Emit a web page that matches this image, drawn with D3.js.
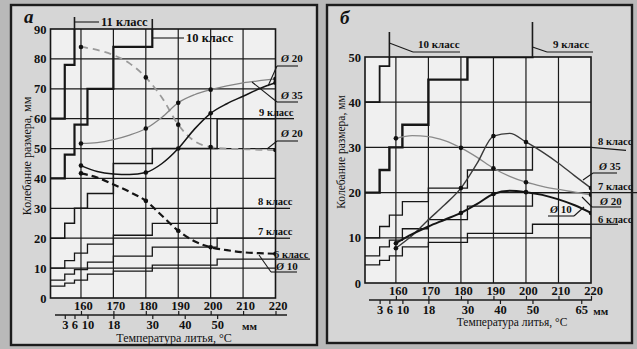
<!DOCTYPE html>
<html>
<head>
<meta charset="utf-8">
<script src="https://cdn.jsdelivr.net/npm/d3@7"></script>
<style>
  body { margin: 0; background: #b9b9b9; }
  svg text { font-family: "Liberation Serif", "DejaVu Serif", serif; fill: #111; }
</style>
</head>
<body>
<div id="chart"></div>
<script>
// ---- data ----
var tempTicks = [160, 170, 180, 190, 200, 210, 220];
var mmTicksA = [3, 6, 10, 18, 30, 40, 50];
var mmTicksB = [3, 6, 10, 18, 30, 40, 50, 65];
// size limits (mm) where the tolerance of a class steps up
var mmSteps = [3, 6, 10, 18, 30, 50];
// tolerance of each class for the size ranges <3,3-6,6-10,10-18,18-30,30-50,50-80
var class6 = [4, 5, 6, 8, 9, 11, 13];
var class7 = [6, 8, 9.5, 12, 14, 17, 20];
var class8 = [10, 12.5, 15, 18, 21, 25, 30];
var class9 = [20, 25, 30, 35, 45, 50, 60];
var class10 = [40, 48, 58, 70, 84, 100, 120];
var class11 = [60, 78, 95, 110, 130, 160, 190];

// curves (temperature of casting -> size variation)
var curveTemps = [160, 165, 170, 175, 180, 185, 190, 195, 200, 205, 210, 215, 220];
var markTemps = [160, 180, 190, 200, 220];
// panel a
var aD10dash = [41.7, 40.3, 38, 35.5, 32.5, 27.5, 22.5, 19, 17, 16, 15.3, 15, 14.8];
var aD20dash = [84, 83, 81.3, 78.5, 73.8, 67, 58, 52.5, 50.5, 50, 49.8, 49.6, 49.5];
var aD35 = [51.7, 52, 53, 54.5, 56.7, 60.5, 65.3, 68, 69.7, 71, 72, 72.7, 73.3];
var aD20 = [44.3, 42.3, 41.5, 41.3, 42, 45, 50, 56.5, 61.8, 65, 67.5, 70, 72];
// panel b
var bD10 = [8.8, 10.8, 12.5, 14, 15.5, 17.5, 19.7, 20.4, 20.1, 19.5, 18.5, 17.2, 15.5];
var bD35 = [7.7, 10.5, 14, 17.3, 21, 26.5, 32.5, 33.1, 31.2, 29, 26.5, 23.7, 21];
var bD20 = [32, 32.6, 32.4, 31.5, 29.9, 27.8, 25.4, 23.6, 22.3, 21.4, 20.7, 20.1, 19.5];

var W = 637, H = 349;
var svg = d3.select("#chart").append("svg")
  .attr("width", W)
  .attr("height", H);

svg.append("rect").attr("width", W).attr("height", H).attr("fill", "#b9b9b9");

function stairs(vals, mmMin, mmMax) {
  var pts = [[mmMin, vals[0]]];
  mmSteps.forEach(function(m, i) { pts.push([m, vals[i + 1]]); });
  pts.push([mmMax, vals[vals.length - 1]]);
  return pts;
}

function seg(g, x1, y1, x2, y2, w) {
  g.append("line")
    .attr("x1", x1).attr("y1", y1).attr("x2", x2).attr("y2", y2)
    .attr("stroke", "#1a1a1a").attr("stroke-width", w || 1.1);
}

function label(g, x, yb, txt, size) {
  g.append("text").attr("x", x).attr("y", yb)
    .attr("font-size", size || 10.5).attr("font-weight", "bold").text(txt);
}

function diaLabel(g, x, yb, num) {
  var t = g.append("text").attr("x", x).attr("y", yb)
    .attr("font-size", 11).attr("font-weight", "bold");
  t.append("tspan").attr("font-style", "italic").text("Ø");
  t.append("tspan").text(" " + num);
}

function drawPanel(p) {
  var g = svg.append("g");

  // outer frame of the panel
  g.append("rect")
    .attr("x", p.frame[0]).attr("y", p.frame[1])
    .attr("width", p.frame[2]).attr("height", p.frame[3])
    .attr("fill", "#d6d6d6").attr("stroke", "#1c1c1c").attr("stroke-width", 2.4);

  var x = d3.scaleLinear().domain([p.tMin, 220]).range([p.left, p.right]);
  var mm = d3.scaleLinear().domain([p.tMin - 152, 220 - 152]).range([p.left, p.right]);
  var y = d3.scaleLinear().domain([0, p.yMax]).range([p.bottom, p.top]);

  g.append("rect")
    .attr("x", p.left).attr("y", p.top)
    .attr("width", p.right - p.left).attr("height", p.bottom - p.top)
    .attr("fill", "#f0f0f0");

  var clipId = "clip" + p.id;
  svg.append("clipPath").attr("id", clipId)
    .append("rect")
    .attr("x", p.left).attr("y", p.top)
    .attr("width", p.right - p.left).attr("height", p.bottom - p.top);

  // grid
  d3.range(10, p.yMax, 10).forEach(function(v) {
    seg(g, p.left, y(v), p.right, y(v), 1.2);
  });
  tempTicks.slice(0, -1).forEach(function(t) {
    seg(g, x(t), p.top, x(t), p.bottom, 1.2);
  });

  // class staircases
  var stairLine = d3.line()
    .x(function(d) { return mm(d[0]); })
    .y(function(d) { return y(d[1]); })
    .curve(d3.curveStepAfter);

  var cg = g.append("g").attr("clip-path", "url(#" + clipId + ")");
  p.classes.forEach(function(c) {
    cg.append("path")
      .attr("d", stairLine(stairs(c.vals, p.tMin - 152 - 2, 70)))
      .attr("fill", "none")
      .attr("stroke", "#161616")
      .attr("stroke-width", c.w);
  });

  // curves
  var curveLine = d3.line()
    .x(function(d) { return x(d[0]); })
    .y(function(d) { return y(d[1]); })
    .curve(d3.curveMonotoneX);

  p.series.forEach(function(s) {
    var pts = curveTemps.map(function(t, i) { return [t, s.vals[i]]; });
    cg.append("path")
      .attr("d", curveLine(pts))
      .attr("fill", "none")
      .attr("stroke", s.color)
      .attr("stroke-width", s.w)
      .attr("stroke-dasharray", s.dash || null);
    cg.selectAll(null)
      .data(markTemps)
      .enter()
      .append("circle")
      .attr("cx", function(t) { return x(t); })
      .attr("cy", function(t) { return y(s.vals[curveTemps.indexOf(t)]); })
      .attr("r", 2.3)
      .attr("fill", "#111");
  });

  // plot border
  g.append("rect")
    .attr("x", p.left).attr("y", p.top)
    .attr("width", p.right - p.left).attr("height", p.bottom - p.top)
    .attr("fill", "none").attr("stroke", "#161616").attr("stroke-width", 1.6);

  // y axis labels
  var yAxis = d3.axisLeft(y)
    .tickValues(d3.range(0, p.yMax + 1, 10))
    .tickSize(0)
    .tickPadding(4);
  g.append("g")
    .attr("transform", "translate(" + p.left + ",0)")
    .call(yAxis)
    .call(function(a) { a.select(".domain").remove(); })
    .selectAll("text")
    .attr("font-size", 12.5).attr("font-weight", "bold")
    .style("font-family", "Liberation Serif").attr("fill", "#111");

  // double scale under the plot: temperature above the line, size in mm below
  seg(g, p.lineX[0], p.lineY, p.lineX[1], p.lineY, 1.3);
  var tAxis = d3.axisTop(x).tickValues(tempTicks).tickSize(4).tickPadding(1);
  g.append("g")
    .attr("transform", "translate(0," + p.lineY + ")")
    .call(tAxis)
    .call(function(a) {
      a.select(".domain").remove();
      a.selectAll("line").attr("stroke", "#1a1a1a").attr("stroke-width", 1.2);
    })
    .selectAll("text")
    .attr("dx", 2)
    .attr("font-size", 12.5).attr("font-weight", "bold")
    .style("font-family", "Liberation Serif").attr("fill", "#111");

  var mAxis = d3.axisBottom(mm).tickValues(p.mmTicks).tickSize(4).tickPadding(1);
  g.append("g")
    .attr("transform", "translate(0," + p.lineY + ")")
    .call(mAxis)
    .call(function(a) {
      a.select(".domain").remove();
      a.selectAll("line").attr("stroke", "#1a1a1a").attr("stroke-width", 1.2);
    })
    .selectAll("text")
    .attr("font-size", 12.5).attr("font-weight", "bold")
    .style("font-family", "Liberation Serif").attr("fill", "#111");

  g.append("text")
    .attr("x", mm(p.mmUnitAt)).attr("y", p.lineY + 14.5)
    .attr("text-anchor", "middle")
    .attr("font-size", 11).attr("font-weight", "bold")
    .text("мм");

  g.append("text")
    .attr("x", p.xTitle[0]).attr("y", p.xTitle[1])
    .attr("text-anchor", "middle")
    .attr("font-size", p.titleSize)
    .text("Температура литья, °С");

  g.append("text")
    .attr("transform", "translate(" + p.yTitle[0] + "," + p.yTitle[1] + ") rotate(-90)")
    .attr("text-anchor", "middle")
    .attr("font-size", p.titleSize)
    .text("Колебание размера, мм");

  g.append("text")
    .attr("x", p.letter[0]).attr("y", p.letter[1])
    .attr("font-size", 19).attr("font-weight", "bold").attr("font-style", "italic")
    .text(p.letterText);

  p.notes(g, x, mm, y);
}

// panel a
drawPanel({
  id: "a", letterText: "а", letter: [24, 23],
  frame: [11, 5, 306, 340],
  tMin: 150.6, left: 50.5, right: 275.5, top: 29, bottom: 298, yMax: 90,
  lineY: 315, lineX: [55, 287], mmTicks: mmTicksA, mmUnitAt: 60,
  xTitle: [174, 342], yTitle: [31, 156], titleSize: 12,
  classes: [
    { vals: class6, w: 1.3 }, { vals: class7, w: 1.3 }, { vals: class8, w: 1.3 },
    { vals: class9, w: 1.5 }, { vals: class10, w: 2.2 }, { vals: class11, w: 2.2 }
  ],
  series: [
    { vals: aD20dash, color: "#9a9a9a", w: 1.8, dash: "7,5" },
    { vals: aD35, color: "#858585", w: 1.3 },
    { vals: aD20, color: "#151515", w: 1.5 },
    { vals: aD10dash, color: "#151515", w: 2.2, dash: "7,4" }
  ],
  notes: function(g, x, mm, y) {
    // class 11 and 10 leaders at the top
    seg(g, mm(6), y(90), mm(6), 17, 1.6);
    seg(g, mm(6), 22, 99, 22, 1.1);
    label(g, 101, 26, "11 класс", 12.5);
    seg(g, mm(30), y(90), mm(30), 19, 1.6);
    seg(g, mm(30), 38, 184, 38, 1.1);
    label(g, 186, 42, "10 класс", 12.5);
    // class lines carried out to their labels
    seg(g, x(220), y(60), 294, y(60), 1.3);
    label(g, 259, 116, "9 класс");
    seg(g, x(220), y(30), 290, y(30), 1.3);
    label(g, 258, 205, "8 класс");
    seg(g, x(220), y(20), 290, y(20), 1.3);
    label(g, 258, 235, "7 класс");
    seg(g, x(220), y(13), 310, y(13), 1.3);
    label(g, 274, 258, "6 класс");
    // diameter labels
    seg(g, 277, 66, 298, 66); seg(g, 277, 66, 268, 86);
    diaLabel(g, 281, 62, "20");
    seg(g, 277, 102, 298, 102); seg(g, 252, 82, 277, 102);
    diaLabel(g, 281, 99, "35");
    seg(g, 277, 141, 298, 141); seg(g, 267, 149, 277, 141);
    diaLabel(g, 281, 137, "20");
    seg(g, 271, 272, 297, 272); seg(g, 259, 255, 271, 272);
    diaLabel(g, 276, 270, "10");
  }
});

// panel b
drawPanel({
  id: "b", letterText: "б", letter: [340, 24],
  frame: [327, 5, 305, 338],
  tMin: 150.5, left: 365, right: 591, top: 57, bottom: 283, yMax: 50,
  lineY: 300, lineX: [369, 592], mmTicks: mmTicksB, mmUnitAt: 71,
  xTitle: [512, 326], yTitle: [345, 152], titleSize: 11.5,
  classes: [
    { vals: class6, w: 1.3 }, { vals: class7, w: 1.3 }, { vals: class8, w: 1.3 },
    { vals: class9, w: 2.4 }, { vals: class10, w: 1.8 }, { vals: class11, w: 1.8 }
  ],
  series: [
    { vals: bD20, color: "#8a8a8a", w: 1.3 },
    { vals: bD35, color: "#3a3a3a", w: 1.4 },
    { vals: bD10, color: "#151515", w: 2 }
  ],
  notes: function(g, x, mm, y) {
    seg(g, mm(6), y(50), mm(6), 32, 1.6);
    seg(g, mm(6), 43, 413, 52); seg(g, 413, 52, 460, 52);
    label(g, 418, 48, "10 класс", 11);
    seg(g, mm(50), y(50), mm(50), 22, 1.6);
    seg(g, mm(50), 47, 547, 52); seg(g, 547, 52, 593, 52);
    label(g, 553, 48, "9 класс", 11);
    seg(g, x(220), y(30), 626, y(30) + 3, 1.3);
    label(g, 598, 145, "8 класс");
    seg(g, x(220), y(20), 637, y(20), 1.3);
    label(g, 598, 190, "7 класс");
    seg(g, x(220), y(13), 618, y(13), 1.3);
    label(g, 598, 223, "6 класс");
    seg(g, 583, 180, 593, 173); seg(g, 593, 173, 617, 173);
    diaLabel(g, 599, 170, "35");
    seg(g, 582, 197, 592, 207); seg(g, 592, 207, 621, 207);
    diaLabel(g, 600, 205, "20");
    seg(g, 584, 207, 574, 216); seg(g, 548, 216, 574, 216);
    diaLabel(g, 550, 213, "10");
  }
});
</script>
</body>
</html>
